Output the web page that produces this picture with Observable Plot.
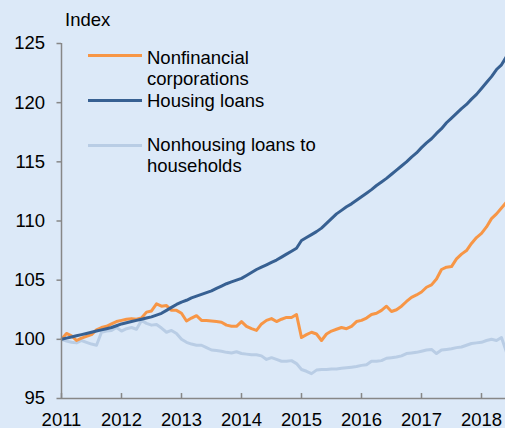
<!DOCTYPE html>
<html><head><meta charset="utf-8">
<script src="https://cdn.jsdelivr.net/npm/d3@7"></script>
<script src="https://cdn.jsdelivr.net/npm/@observablehq/plot@0.6"></script>
<style>
body{margin:0;background:#dce9f8;}
#wrap{position:relative;width:505px;height:428px;background:#dce9f8;font-family:"Liberation Sans",Arial,sans-serif;color:#000;overflow:hidden}
.lbl{position:absolute;font-size:18.5px;line-height:21px;white-space:nowrap;color:#000}
.sw{position:absolute;height:3px;width:54px}
</style></head><body><div id="wrap"></div>
<script>
// Monthly index values, Jan 2011 = 100
const startYear = 2011;
const nonfinancial = [
100.0,100.5,100.3,99.9,100.1,100.25,100.4,100.8,101.0,101.1,101.3,101.5,
101.6,101.7,101.75,101.7,101.8,102.3,102.4,103.0,102.8,102.85,102.45,102.45,
102.2,101.55,101.8,102.0,101.6,101.6,101.55,101.5,101.45,101.2,101.1,101.1,
101.5,101.1,100.9,100.75,101.3,101.6,101.75,101.5,101.7,101.85,101.85,102.1,
100.15,100.4,100.6,100.45,99.9,100.45,100.7,100.85,101.0,100.9,101.1,101.5,
101.6,101.8,102.1,102.2,102.45,102.8,102.35,102.5,102.8,103.2,103.55,103.75,
104.0,104.4,104.6,105.1,105.9,106.1,106.15,106.8,107.2,107.5,108.1,108.6,
108.95,109.5,110.2,110.6,111.1,111.6
];
const housing = [
100.0,100.1,100.2,100.3,100.4,100.5,100.6,100.7,100.8,100.9,101.0,101.15,
101.3,101.4,101.5,101.6,101.7,101.8,101.9,102.05,102.2,102.45,102.7,102.95,
103.15,103.3,103.5,103.65,103.8,103.95,104.1,104.3,104.5,104.7,104.85,105.0,
105.15,105.4,105.65,105.9,106.1,106.3,106.5,106.7,106.95,107.2,107.45,107.7,
108.35,108.6,108.85,109.1,109.4,109.8,110.2,110.6,110.9,111.2,111.45,111.75,
112.05,112.35,112.65,113.0,113.3,113.6,113.95,114.3,114.65,115.0,115.4,115.75,
116.2,116.6,116.95,117.4,117.8,118.3,118.7,119.1,119.5,119.85,120.3,120.7,
121.2,121.7,122.2,122.8,123.2,123.9
];
const nonhousing = [
100.0,99.85,99.75,99.7,99.9,99.75,99.6,99.5,100.6,100.7,100.75,101.0,
100.7,100.9,101.0,100.85,101.6,101.35,101.2,101.25,100.95,100.6,100.75,100.5,
100.0,99.75,99.6,99.5,99.5,99.3,99.1,99.05,99.0,98.9,98.85,98.95,
98.8,98.75,98.7,98.7,98.6,98.3,98.45,98.3,98.15,98.15,98.2,97.95,
97.45,97.3,97.1,97.4,97.45,97.45,97.5,97.5,97.55,97.6,97.65,97.7,
97.8,97.85,98.15,98.15,98.2,98.4,98.45,98.5,98.6,98.8,98.85,98.9,
99.0,99.1,99.15,98.8,99.1,99.15,99.2,99.3,99.35,99.5,99.65,99.7,
99.75,99.9,100.0,99.9,100.15,98.9
];
const seriesNames = ["Nonhousing loans to households","Nonfinancial corporations","Housing loans"];
const seriesColors = ["#b9cde5","#f79646","#376092"];
const xTicks = [2011,2012,2013,2014,2015,2016,2017,2018];
const yTicks = [95,100,105,110,115,120,125];

const rows = [];
[[nonhousing,seriesNames[0]],[nonfinancial,seriesNames[1]],[housing,seriesNames[2]]].forEach(([arr,name])=>{
  arr.forEach((v,i)=>rows.push({t:startYear+i/12, v, s:name}));
});
const grey = "#878787";
const chart = Plot.plot({
  width:505, height:428,
  marginLeft:61, marginRight:0, marginTop:43, marginBottom:30,
  style:{background:"transparent", fontSize:"18.5px", fontFamily:"'Liberation Sans', Arial, sans-serif", color:"#000"},
  x:{domain:[2011,2018.4]},
  y:{domain:[95,125]},
  color:{domain:seriesNames, range:seriesColors},
  marks:[
    Plot.line(rows,{x:"t",y:"v",z:"s",stroke:"s",strokeWidth:3,strokeLinejoin:"round",strokeLinecap:"butt"}),
    Plot.ruleY([95],{stroke:grey,strokeWidth:1.5}),
    Plot.ruleX([2011],{stroke:grey,strokeWidth:1.5}),
    Plot.ruleX(xTicks,{y1:95,y2:95.42,stroke:grey,strokeWidth:1.5}),
    Plot.axisY({ticks:yTicks,tickSize:4.5,tickPadding:12,tickFormat:d=>String(d),stroke:grey,strokeWidth:1.5,strokeOpacity:1,fill:"#000",label:null}),
    Plot.axisX({ticks:xTicks,tickSize:0,tickPadding:14,tickFormat:d=>String(d),fill:"#000",label:null})
  ]
});
const wrap = document.getElementById("wrap");
wrap.appendChild(chart);
function addLabel(text,left,top){const d=document.createElement("div");d.className="lbl";d.style.left=left+"px";d.style.top=top+"px";d.innerHTML=text;wrap.appendChild(d);}
function addSwatch(color,left,top){const d=document.createElement("div");d.className="sw";d.style.left=left+"px";d.style.top=top+"px";d.style.background=color;wrap.appendChild(d);}
addLabel("Index",65,9);
addSwatch(seriesColors[1],88,53.5);
addLabel("Nonfinancial<br>corporations",147,46.5);
addSwatch(seriesColors[2],88,98.5);
addLabel("Housing loans",147,90);
addSwatch(seriesColors[0],88,143.5);
addLabel("Nonhousing loans to<br>households",147,134);
</script>
</body></html>
